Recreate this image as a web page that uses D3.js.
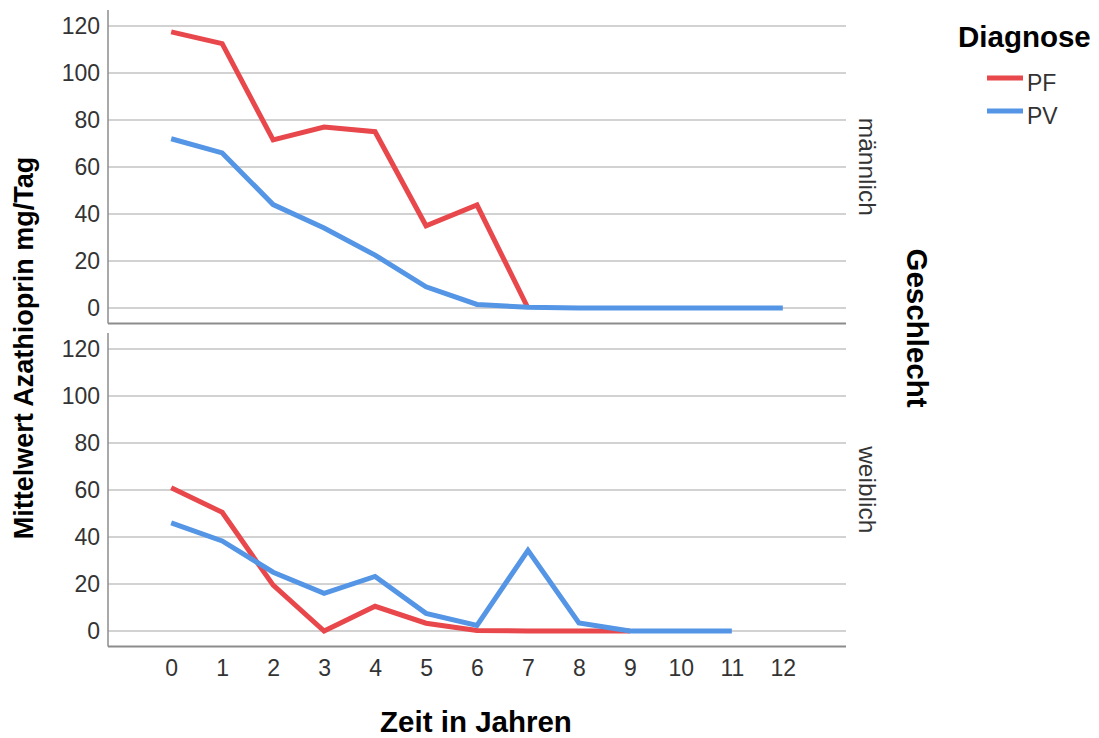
<!DOCTYPE html>
<html>
<head>
<meta charset="utf-8">
<script src="https://cdn.jsdelivr.net/npm/d3@7/dist/d3.min.js"></script>
<style>
  html, body { margin: 0; padding: 0; background: #ffffff; }
  svg { display: block; font-family: "Liberation Sans", Arial, sans-serif; }
</style>
</head>
<body>
<svg id="chart" width="1099" height="738"></svg>
<script>
// Years since diagnosis (x axis categories)
const years = [0, 1, 2, 3, 4, 5, 6, 7, 8, 9, 10, 11, 12];
const yTicks = [0, 20, 40, 60, 80, 100, 120];

// Mean azathioprine dose (mg/day), male patients
const malePF = [117.5, 112.5, 71.5, 77, 75, 35, 43.8, 0];
const malePV = [72, 66, 44, 34, 22.5, 9, 1.5, 0.3, 0, 0, 0, 0, 0];

// Mean azathioprine dose (mg/day), female patients
const femalePF = [61, 50.5, 19.5, 0, 10.5, 3.3, 0.2, 0, 0, 0];
const femalePV = [46, 38.3, 25, 16, 23.2, 7.5, 2.4, 34.3, 3.4, 0, 0, 0];

const diagnoses = ["PF", "PV"];
const colors = { PF: "#e8474b", PV: "#5495e5" };

const svg = d3.select("#chart");
svg.append("rect").attr("width", 1099).attr("height", 738).attr("fill", "#ffffff");

const left = 108, right = 846;
const x = d3.scalePoint().domain(years).range([left, right]).padding(1.24);

const panels = [
  { label: "männlich", top: 10, bottom: 323.5, PF: malePF, PV: malePV },
  { label: "weiblich", top: 333, bottom: 646.5, PF: femalePF, PV: femalePV }
];

const tickFont = 23;

panels.forEach(p => {
  const y = d3.scaleLinear().domain([-6.6, 126.8]).range([p.bottom, p.top]);
  const g = svg.append("g");

  // horizontal gridlines
  g.selectAll("line.grid").data(yTicks).join("line")
    .attr("class", "grid")
    .attr("x1", left).attr("x2", right)
    .attr("y1", d => y(d)).attr("y2", d => y(d))
    .attr("stroke", "#d2d2d2").attr("stroke-width", 2);

  // y axis with tick labels only
  const yAxis = d3.axisLeft(y).tickValues(yTicks).tickSize(0).tickPadding(8);
  const ya = g.append("g").attr("transform", `translate(${left},0)`).call(yAxis);
  ya.select(".domain").remove();
  ya.selectAll("text")
    .attr("font-size", tickFont)
    .attr("font-family", "Liberation Sans, Arial, sans-serif")
    .attr("fill", "#333333");

  // panel frame: left and bottom edges
  g.append("line").attr("x1", left).attr("x2", left)
    .attr("y1", p.top).attr("y2", p.bottom)
    .attr("stroke", "#8c8c8c").attr("stroke-width", 1.5);
  g.append("line").attr("x1", left).attr("x2", right)
    .attr("y1", p.bottom).attr("y2", p.bottom)
    .attr("stroke", "#8c8c8c").attr("stroke-width", 2);

  // one line per diagnosis (PV drawn last, on top)
  const line = d3.line().x((d, i) => x(years[i])).y(d => y(d));
  diagnoses.forEach(k => {
    g.append("path")
      .datum(p[k])
      .attr("d", line)
      .attr("fill", "none")
      .attr("stroke", colors[k])
      .attr("stroke-width", 5)
      .attr("stroke-linejoin", "miter");
  });

  // facet label on the right
  svg.append("text")
    .attr("transform", `translate(867,${(p.top + p.bottom) / 2}) rotate(90)`)
    .attr("text-anchor", "middle")
    .attr("dominant-baseline", "central")
    .attr("font-size", 24.5)
    .attr("fill", "#333333")
    .text(p.label);
});

// x axis tick labels
const xAxis = d3.axisBottom(x).tickSize(0).tickPadding(13);
const xa = svg.append("g").attr("transform", "translate(0,646.5)").call(xAxis);
xa.select(".domain").remove();
xa.selectAll("text")
  .attr("font-size", tickFont)
  .attr("font-family", "Liberation Sans, Arial, sans-serif")
  .attr("fill", "#333333");

// axis titles
svg.append("text")
  .attr("x", 476).attr("y", 732)
  .attr("text-anchor", "middle")
  .attr("font-size", 29.5).attr("font-weight", "bold").attr("fill", "#000")
  .text("Zeit in Jahren");

svg.append("text")
  .attr("transform", "translate(24,348) rotate(-90)")
  .attr("text-anchor", "middle")
  .attr("dominant-baseline", "central")
  .attr("font-size", 27).attr("font-weight", "bold").attr("fill", "#000")
  .text("Mittelwert Azathioprin mg/Tag");

svg.append("text")
  .attr("transform", "translate(917,328) rotate(90)")
  .attr("text-anchor", "middle")
  .attr("dominant-baseline", "central")
  .attr("font-size", 29.5).attr("font-weight", "bold").attr("fill", "#000")
  .text("Geschlecht");

// legend
svg.append("text")
  .attr("x", 958).attr("y", 47)
  .attr("font-size", 29.5).attr("font-weight", "bold").attr("fill", "#000")
  .text("Diagnose");

const legendY = d3.scalePoint().domain(diagnoses).range([78, 111]);
const lg = svg.append("g");
lg.selectAll("line").data(diagnoses).join("line")
  .attr("x1", 987).attr("x2", 1023)
  .attr("y1", d => legendY(d)).attr("y2", d => legendY(d))
  .attr("stroke", d => colors[d]).attr("stroke-width", 5);
lg.selectAll("text").data(diagnoses).join("text")
  .attr("x", 1027).attr("y", d => legendY(d) + 13)
  .attr("font-size", 23).attr("fill", "#333333")
  .text(d => d);
</script>
</body>
</html>
